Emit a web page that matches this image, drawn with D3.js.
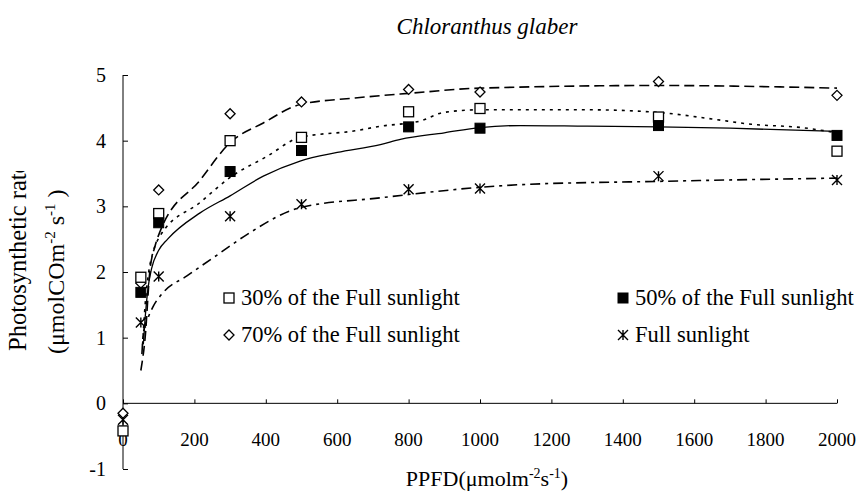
<!DOCTYPE html>
<html><head><meta charset="utf-8">
<script src="https://cdn.jsdelivr.net/npm/d3@7"></script>
<style>body{margin:0;background:#fff}svg{display:block}text{font-family:"Liberation Serif","Times New Roman",serif;fill:#000}</style>
</head><body><svg id="c" width="864" height="492"></svg>
<script>
const ppfd = [0, 50, 100, 300, 500, 800, 1000, 1500, 2000];
const s30 = [-0.42, 1.92, 2.89, 4.0, 4.05, 4.44, 4.49, 4.36, 3.84];
const s50 = [null, 1.69, 2.75, 3.53, 3.85, 4.21, 4.19, 4.23, 4.08];
const s70 = [-0.15, 1.83, 3.25, 4.41, 4.59, 4.78, 4.74, 4.90, 4.69];
const sFull = [-0.25, 1.23, 1.93, 2.85, 3.03, 3.26, 3.27, 3.46, 3.40];

const fit30x = [55,62,72,84,104,216,300,403,496,650,721,833,898,1000,1300,1500,1650,1760,1900,2000];
const fit30y = [0.9,1.5,2.0,2.3,2.55,3.06,3.44,3.76,4.05,4.15,4.22,4.30,4.43,4.47,4.47,4.43,4.33,4.25,4.2,4.12];
const fit50x = [57,62,70,80,100,125,216,300,393,496,600,721,777,900,1000,1113,1300,1500,1700,2000];
const fit50y = [0.9,1.3,1.75,2.05,2.33,2.5,2.9,3.16,3.46,3.69,3.82,3.94,4.02,4.12,4.2,4.23,4.22,4.21,4.19,4.14];
const fit70x = [50,62,75,90,104,216,300,393,496,650,800,1000,1500,2000];
const fit70y = [0.5,1.0,2.0,2.4,2.62,3.4,3.97,4.27,4.55,4.65,4.72,4.8,4.84,4.8];
const fitFx = [53,57,70,85,113,179,272,347,496,721,800,1000,1113,1500,2000];
const fitFy = [0.75,1.07,1.3,1.48,1.69,1.94,2.29,2.57,2.98,3.13,3.18,3.29,3.33,3.38,3.43];

const xTicks = [0,200,400,600,800,1000,1200,1400,1600,1800,2000];
const yTicks = [-1,0,1,2,3,4,5];
const legendLabels = ["30% of the Full sunlight","50% of the Full sunlight","70% of the Full sunlight","Full sunlight"];

const svg = d3.select("#c");
const x = d3.scaleLinear().domain([0,2000]).range([123,837]);
const y = d3.scaleLinear().domain([-1,5]).range([469,75]);

// title
svg.append("text").attr("x",487).attr("y",34).attr("text-anchor","middle")
  .style("font-style","italic").style("font-size","23px").text("Chloranthus glaber");

// y axis
const ya = svg.append("g").attr("transform","translate(123,0)")
  .call(d3.axisRight(y).tickValues(yTicks).tickSize(5).tickFormat(""));
ya.select(".domain").attr("d","M0,"+y(5)+"V"+y(-1)).attr("stroke","#000");
ya.selectAll("line").attr("stroke","#000");
svg.selectAll(".ylab").data(yTicks).enter().append("text")
  .attr("x",106).attr("y",d=>y(d)+7).attr("text-anchor","end").style("font-size","20px").text(d=>d);

// x axis at y=0
const xa = svg.append("g").attr("transform","translate(0,"+y(0)+")")
  .call(d3.axisTop(x).tickValues(xTicks).tickSize(4).tickFormat(""));
xa.select(".domain").attr("d","M"+x(0)+",0H"+x(2000)).attr("stroke","#000");
xa.selectAll("line").attr("stroke","#000");
svg.selectAll(".xlab").data(xTicks).enter().append("text")
  .attr("x",d=>x(d)).attr("y",446).attr("text-anchor","middle").style("font-size","19px").text(d=>d);

// x title
const xt = svg.append("text").attr("x",487).attr("y",486).attr("text-anchor","middle").style("font-size","22px");
xt.append("tspan").text("PPFD(μmolm");
xt.append("tspan").attr("dy",-8).style("font-size","14px").text("-2");
xt.append("tspan").attr("dy",8).text("s");
xt.append("tspan").attr("dy",-8).style("font-size","14px").text("-1");
xt.append("tspan").attr("dy",8).text(")");

// y title
svg.append("clipPath").attr("id","yclip").append("rect").attr("x",0).attr("y",171).attr("width",120).attr("height",300);
svg.append("g").attr("clip-path","url(#yclip)").append("text")
  .attr("transform","translate(26,351) rotate(-90)").style("font-size","24.5px").text("Photosynthetic rate");
const yt2 = svg.append("text").attr("transform","translate(64,354) rotate(-90)").style("font-size","24px");
yt2.append("tspan").text("(μmolCO");
yt2.append("tspan").text("m");
yt2.append("tspan").attr("dy",-9).style("font-size","15px").text("-2");
yt2.append("tspan").attr("dy",9).text(" s");
yt2.append("tspan").attr("dy",-9).style("font-size","15px").text("-1");
yt2.append("tspan").attr("dy",9).text(" )");

// fitted curves
const line = d3.line().x(d=>x(d[0])).y(d=>y(d[1])).curve(d3.curveMonotoneX);
const fits = [
  {xs:fit70x, ys:fit70y, dash:"10,5", w:1.6},
  {xs:fit30x, ys:fit30y, dash:"3,5", w:1.6},
  {xs:fit50x, ys:fit50y, dash:null, w:1.3},
  {xs:fitFx, ys:fitFy, dash:"10,5,3,5", w:1.6}
];
fits.forEach(f=>{
  svg.append("path").datum(f.xs.map((v,i)=>[v,f.ys[i]])).attr("d",line)
    .attr("fill","none").attr("stroke","#000").attr("stroke-width",f.w)
    .attr("stroke-dasharray",f.dash);
});

// markers
function marker(g, type, cx, cy){
  const s = 5;
  if(type==="sq") g.append("rect").attr("x",cx-s).attr("y",cy-s).attr("width",2*s).attr("height",2*s)
      .attr("fill","#fff").attr("stroke","#000").attr("stroke-width",1.3);
  else if(type==="fsq") g.append("rect").attr("x",cx-s).attr("y",cy-s).attr("width",2*s).attr("height",2*s)
      .attr("fill","#000").attr("stroke","#000").attr("stroke-width",1);
  else if(type==="dia") g.append("path").attr("d",`M${cx},${cy-s}L${cx+s},${cy}L${cx},${cy+s}L${cx-s},${cy}Z`)
      .attr("fill","#fff").attr("stroke","#000").attr("stroke-width",1.3);
  else if(type==="ast") g.append("path").attr("d",`M${cx-s},${cy-s}L${cx+s},${cy+s}M${cx+s},${cy-s}L${cx-s},${cy+s}M${cx},${cy-s}V${cy+s}`)
      .attr("fill","none").attr("stroke","#000").attr("stroke-width",1.4);
}
const series = [{v:sFull,t:"ast"},{v:s70,t:"dia"},{v:s30,t:"sq"},{v:s50,t:"fsq"}];
const mg = svg.append("g");
series.forEach(s=>{
  ppfd.forEach((p,i)=>{ if(s.v[i]!=null) marker(mg, s.t, x(p), y(s.v[i])); });
});

// legend
const leg = [
  {t:"sq", lx:229, ly:298, label:legendLabels[0]},
  {t:"fsq", lx:623, ly:298, label:legendLabels[1]},
  {t:"dia", lx:229, ly:335, label:legendLabels[2]},
  {t:"ast", lx:623, ly:335, label:legendLabels[3]}
];
leg.forEach(l=>{
  marker(svg, l.t, l.lx, l.ly);
  svg.append("text").attr("x",l.lx+12).attr("y",l.ly+7).style("font-size","22.5px").text(l.label);
});
</script></body></html>
